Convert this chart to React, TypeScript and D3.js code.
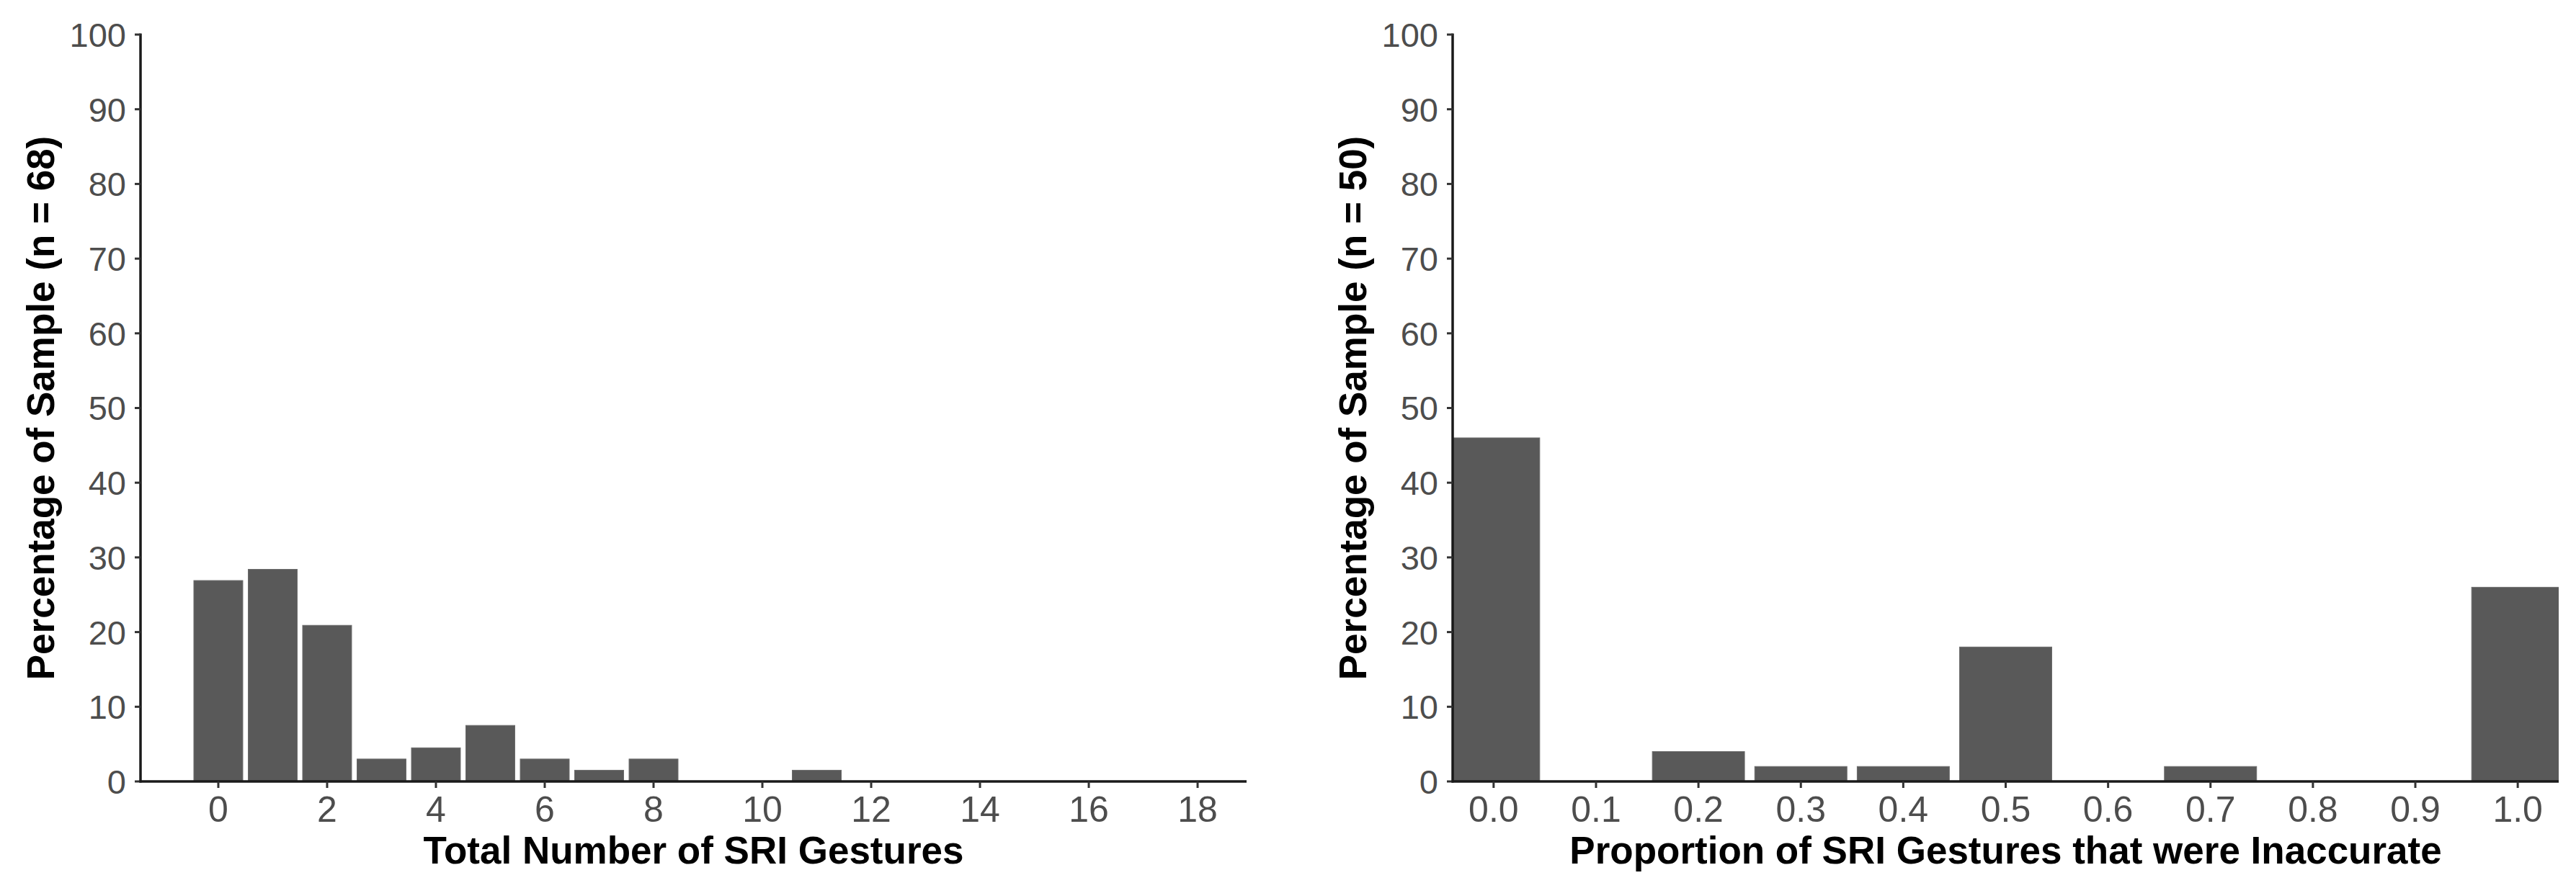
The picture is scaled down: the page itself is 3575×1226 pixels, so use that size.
import React from "react";
import * as d3 from "d3";

// Left panel: total number of SRI gestures (n = 68)
const leftCategories = [0, 1, 2, 3, 4, 5, 6, 7, 8, 9, 10, 11];
const leftValues = [26.9, 28.4, 20.9, 3.0, 4.5, 7.5, 3.0, 1.5, 3.0, 0, 0, 1.5];
const leftTicks = [0, 2, 4, 6, 8, 10, 12, 14, 16, 18];

// Right panel: proportion inaccurate (n = 50)
const rightCategories = [0.0, 0.1, 0.2, 0.3, 0.4, 0.5, 0.6, 0.7, 0.8, 0.9, 1.0];
const rightValues = [46, 0, 4, 2, 2, 18, 0, 2, 0, 0, 26];
const rightTicks = [0.0, 0.1, 0.2, 0.3, 0.4, 0.5, 0.6, 0.7, 0.8, 0.9, 1.0];

const yTicks = [0, 10, 20, 30, 40, 50, 60, 70, 80, 90, 100];

const FONT = "'Liberation Sans', Arial, Helvetica, sans-serif";
const BAR = "#595959";
const TICK_TEXT = "#4d4d4d";
const AXIS = "#1a1a1a";

type PanelProps = {
  x0: number;
  x1: number;
  domain: [number, number];
  cats: number[];
  vals: number[];
  ticks: number[];
  barWidth: number;
  fmt: (v: number) => string;
  xTitle: string;
  yTitle: string;
  id: string;
};

function Panel({ x0, x1, domain, cats, vals, ticks, barWidth, fmt, xTitle, yTitle, id }: PanelProps) {
  const top = 48;
  const bottom = 1085;
  const x = d3.scaleLinear().domain(domain).range([x0, x1]);
  const y = d3.scaleLinear().domain([0, 100]).range([bottom, top]);
  const cx = (x0 + x1) / 2;
  const cy = (top + bottom) / 2;
  return (
    <g>
      <defs>
        <clipPath id={id}>
          <rect x={x0} y={top} width={x1 - x0} height={bottom - top} />
        </clipPath>
      </defs>
      <g clipPath={`url(#${id})`}>
        {cats.map((c, i) =>
          vals[i] > 0 ? (
            <rect
              key={i}
              x={x(c - barWidth / 2)}
              width={x(c + barWidth / 2) - x(c - barWidth / 2)}
              y={y(vals[i])}
              height={y(0) - y(vals[i])}
              fill={BAR}
              stroke="#6a6a6a"
              strokeWidth={1}
            />
          ) : null
        )}
      </g>
      {/* y axis */}
      <line x1={x0} x2={x0} y1={top - 1.5} y2={bottom + 1.5} stroke={AXIS} strokeWidth={3.5} />
      {yTicks.map((t) => (
        <g key={t}>
          <line x1={x0 - 8} x2={x0} y1={y(t)} y2={y(t)} stroke="#333" strokeWidth={3} />
          <text
            x={x0 - 20}
            y={y(t)}
            dy="0.36em"
            textAnchor="end"
            fontFamily={FONT}
            fontSize={47}
            fill={TICK_TEXT}
          >
            {t}
          </text>
        </g>
      ))}
      {/* x axis */}
      <line x1={x0 - 1.5} x2={x1} y1={bottom} y2={bottom} stroke={AXIS} strokeWidth={3.5} />
      {ticks.map((t) => (
        <g key={t}>
          <line x1={x(t)} x2={x(t)} y1={bottom} y2={bottom + 9} stroke="#333" strokeWidth={3} />
          <text
            x={x(t)}
            y={1141}
            textAnchor="middle"
            fontFamily={FONT}
            fontSize={50}
            fill={TICK_TEXT}
          >
            {fmt(t)}
          </text>
        </g>
      ))}
      <text
        x={cx}
        y={1199}
        textAnchor="middle"
        fontFamily={FONT}
        fontWeight="bold"
        fontSize={53}
        fill="#000"
      >
        {xTitle}
      </text>
      <text
        transform={`translate(${x0 - 120},${cy}) rotate(-90)`}
        textAnchor="middle"
        fontFamily={FONT}
        fontWeight="bold"
        fontSize={53}
        fill="#000"
      >
        {yTitle}
      </text>
    </g>
  );
}

export default function App() {
  return (
    <svg
      width={3575}
      height={1226}
      style={{ position: "absolute", left: 0, top: 0, background: "#fff" }}
    >
      <rect width={3575} height={1226} fill="#fff" />
      <Panel
        id="clipL"
        x0={195}
        x1={1730}
        domain={[-1.43, 18.9]}
        cats={leftCategories}
        vals={leftValues}
        ticks={leftTicks}
        barWidth={0.9}
        fmt={(v) => String(v)}
        xTitle="Total Number of SRI Gestures"
        yTitle="Percentage of Sample (n = 68)"
      />
      <Panel
        id="clipR"
        x0={2016}
        x1={3551}
        domain={[-0.04, 1.04]}
        cats={rightCategories}
        vals={rightValues}
        ticks={rightTicks}
        barWidth={0.09}
        fmt={d3.format(".1f")}
        xTitle="Proportion of SRI Gestures that were Inaccurate"
        yTitle="Percentage of Sample (n = 50)"
      />
    </svg>
  );
}
